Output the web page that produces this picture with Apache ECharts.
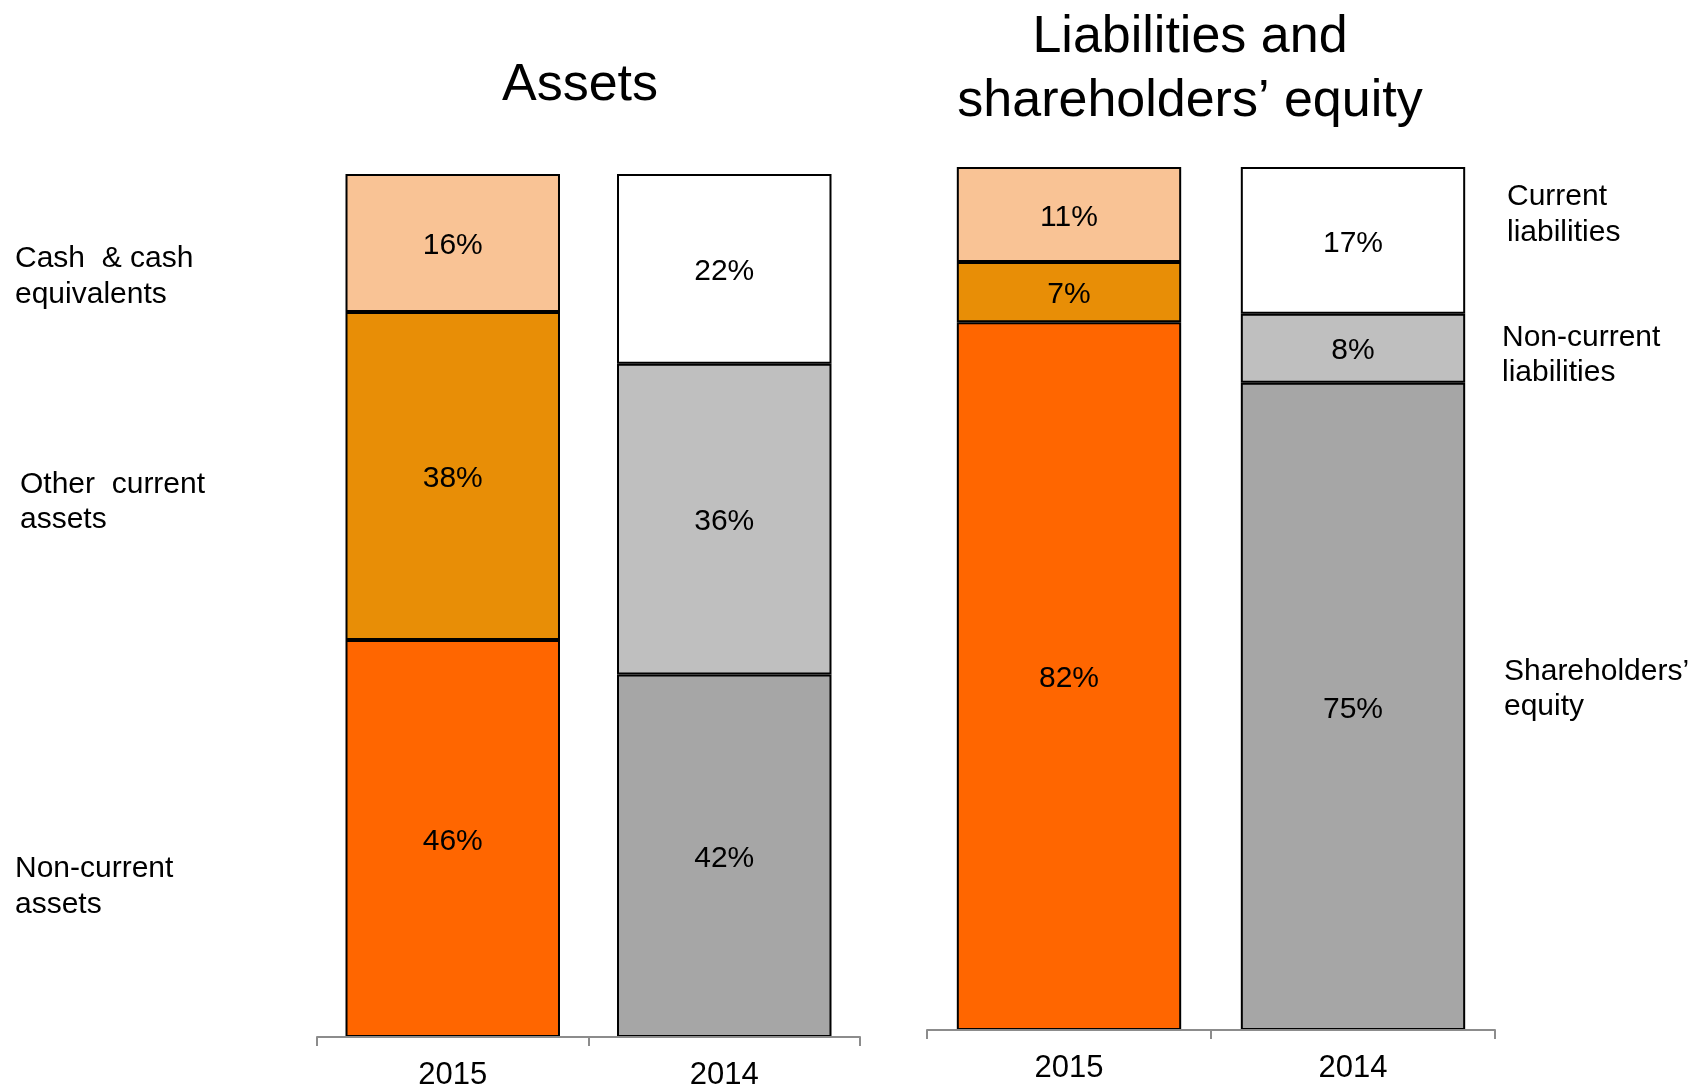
<!DOCTYPE html>
<html lang="en">
<head>
    <meta charset="UTF-8">
    <title>Assets / Liabilities and shareholders' equity</title>
    <script src="https://cdn.jsdelivr.net/npm/echarts@6/dist/echarts.min.js"></script>
    <style>
        html, body { margin: 0; padding: 0; background: #fff; }
        #main { width: 1694px; height: 1091px; }
    </style>
</head>
<body>
<div id="main"></div>
<script>
    // data
    var years = ['2015', '2014'];
    var assetCash = [16, 22];
    var assetOtherCurrent = [38, 36];
    var assetNonCurrent = [46, 42];
    var liabCurrent = [11, 17];
    var liabNonCurrent = [7, 8];
    var liabEquity = [82, 75];

    var font = 'Liberation Sans, Arial, sans-serif';
    var topColors = ['#F9C395', '#FFFFFF'];
    var midColors = ['#E88E06', '#BFBFBF'];
    var lowColors = ['#FF6600', '#A6A6A6'];

    function items(values, colors) {
        return values.map(function (v, i) {
            return { value: v, itemStyle: { color: colors[i] } };
        });
    }

    function barSeries(name, values, colors, idx) {
        return {
            name: name,
            type: 'bar',
            stack: 'total' + idx,
            xAxisIndex: idx,
            yAxisIndex: idx,
            barCategoryGap: '21%',
            data: items(values, colors),
            itemStyle: { borderColor: '#000', borderWidth: 2 },
            label: {
                show: true,
                position: 'inside',
                offset: [0, 3],
                formatter: '{c}%',
                color: '#000',
                fontSize: 30,
                fontFamily: font
            }
        };
    }

    function catAxis(idx) {
        return {
            type: 'category',
            gridIndex: idx,
            data: years,
            z: 5,
            axisLine: { lineStyle: { color: '#8C8C8C', width: 2 } },
            axisTick: { show: true, length: 9, lineStyle: { color: '#8C8C8C', width: 2 } },
            axisLabel: { color: '#000', fontSize: 31, fontFamily: font, margin: 23 }
        };
    }

    function valAxis(idx) {
        return { type: 'value', gridIndex: idx, min: 0, max: 100, show: false, splitLine: { show: false } };
    }

    function txt(x, y, text, size, align) {
        return {
            type: 'text',
            x: x,
            y: y,
            style: {
                text: text,
                fontSize: size,
                fontFamily: font,
                fill: '#000',
                align: align || 'left',
                verticalAlign: 'middle'
            }
        };
    }

    var myChart = echarts.init(document.getElementById('main'));
    var option = {
        animation: false,
        backgroundColor: '#fff',
        grid: [
            { left: 317, right: 834, top: 174, bottom: 54 },
            { left: 927, right: 199, top: 167, bottom: 61 }
        ],
        xAxis: [catAxis(0), catAxis(1)],
        yAxis: [valAxis(0), valAxis(1)],
        series: [
            barSeries('Non-current assets', assetNonCurrent, lowColors, 0),
            barSeries('Other current assets', assetOtherCurrent, midColors, 0),
            barSeries('Cash & cash equivalents', assetCash, topColors, 0),
            barSeries("Shareholders' equity", liabEquity, lowColors, 1),
            barSeries('Non-current liabilities', liabNonCurrent, midColors, 1),
            barSeries('Current liabilities', liabCurrent, topColors, 1)
        ],
        graphic: [
            txt(580, 86, 'Assets', 52, 'center'),
            txt(1190, 38, 'Liabilities and', 52, 'center'),
            txt(1190, 102, 'shareholders\u2019 equity', 52, 'center'),
            txt(15, 259, 'Cash  & cash', 30),
            txt(15, 295, 'equivalents', 30),
            txt(20, 485, 'Other  current', 30),
            txt(20, 520, 'assets', 30),
            txt(15, 869, 'Non-current', 30),
            txt(15, 905, 'assets', 30),
            txt(1507, 197, 'Current', 30),
            txt(1507, 233, 'liabilities', 30),
            txt(1502, 338, 'Non-current', 30),
            txt(1502, 373, 'liabilities', 30),
            txt(1504, 672, 'Shareholders\u2019', 30),
            txt(1504, 707, 'equity', 30)
        ]
    };
    myChart.setOption(option);
</script>
</body>
</html>
